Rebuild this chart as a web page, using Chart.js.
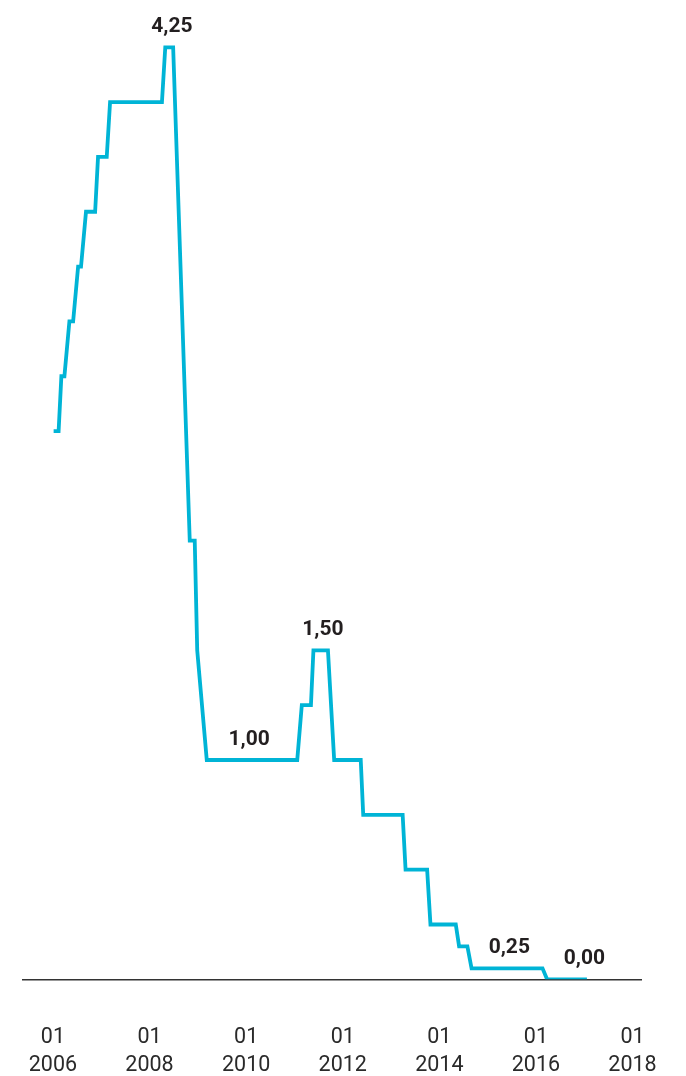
<!DOCTYPE html>
<html>
<head>
<meta charset="utf-8">
<script src="https://cdn.jsdelivr.net/npm/chart.js@4.4.1/dist/chart.umd.min.js"></script>
<style>
body { margin: 0; background: #fff; }
</style>
</head>
<body>
<canvas id="rate_canvas" width="686" height="1076"></canvas>
<script>
// rate path, corners of the steps
const rateDates = ['2006-04-19', '2006-05-25', '2006-06-15', '2006-07-07', '2006-08-13', '2006-09-10',
    '2006-10-16', '2006-11-07', '2006-12-13', '2007-02-19', '2007-03-10', '2007-05-13', '2007-06-07',
    '2008-06-22', '2008-07-16', '2008-09-13', '2009-01-13', '2009-02-19', '2009-03-07', '2009-05-16',
    '2011-03-10', '2011-04-13', '2011-06-19', '2011-07-07', '2011-10-22', '2011-12-07', '2012-06-19',
    '2012-07-07', '2013-04-22', '2013-05-13', '2013-10-19', '2013-11-13', '2014-05-16', '2014-06-10',
    '2014-08-10', '2014-09-10', '2016-02-13', '2016-03-16', '2017-01-04'];
const rateValues = [2.50, 2.50, 2.75, 2.75, 3.00, 3.00, 3.25, 3.25, 3.50, 3.50, 3.75, 3.75, 4.00,
    4.00, 4.25, 4.25, 2.00, 2.00, 1.50, 1.00, 1.00, 1.25, 1.25, 1.50, 1.50, 1.00, 1.00,
    0.75, 0.75, 0.50, 0.50, 0.25, 0.25, 0.15, 0.15, 0.05, 0.05, 0.00, 0.00];

// value labels on the line
const noteDates = ['2008-09-04', '2010-03-22', '2011-09-16', '2015-06-13', '2016-12-16'];
const noteValues = [4.25, 1.00, 1.50, 0.05, 0.00];
const noteTexts = ['4,25', '1,00', '1,50', '0,25', '0,00'];

// x axis labels
const tickYears = [2006, 2008, 2010, 2012, 2014, 2016, 2018];
const tickMonth = '01';

function month_index(s) {
    const p = s.split('-').map(Number);
    return (p[0] - 2006) * 12 + (p[1] - 1) + (p[2] - 1) / 30;
}

const note_plugin = {
    id: 'notes',
    afterDatasetsDraw(chart) {
        const ctx = chart.ctx;
        const xs = chart.scales.x;
        const ys = chart.scales.y;
        ctx.save();
        ctx.font = 'bold 21px Roboto';
        ctx.fillStyle = '#231f20';
        ctx.textAlign = 'center';
        ctx.textBaseline = 'alphabetic';
        for (let i = 0; i < noteTexts.length; i++) {
            ctx.fillText(noteTexts[i],
                xs.getPixelForValue(month_index(noteDates[i])),
                ys.getPixelForValue(noteValues[i]) - 15);
        }
        ctx.restore();
    }
};

const points = [];
for (let i = 0; i < rateDates.length; i++) {
    points.push({x: month_index(rateDates[i]), y: rateValues[i]});
}

new Chart(document.getElementById('rate_canvas'), {
    type: 'line',
    data: {
        datasets: [{
            data: points,
            borderColor: '#00b4d6',
            borderWidth: 3.8,
            borderJoinStyle: 'miter',
            borderCapStyle: 'butt',
            pointRadius: 0,
            tension: 0,
            fill: false
        }]
    },
    options: {
        responsive: false,
        animation: false,
        devicePixelRatio: 1,
        layout: {padding: {left: 22.5, right: 44.3, top: 14.4, bottom: 0}},
        plugins: {
            legend: {display: false},
            tooltip: {enabled: false}
        },
        scales: {
            x: {type: 'linear', display: false, min: -3.9, max: 145.3},
            years: {
                type: 'linear',
                position: 'bottom',
                min: 2005.37,
                max: 2018.19,
                afterBuildTicks: s => { s.ticks = tickYears.map(v => ({value: v})); },
                afterFit: s => {
                    s.height = 96.7;
                    // labels may hang past the plot, keep the plot width fixed
                    s.paddingLeft = 0;
                    s.paddingRight = 0;
                },
                grid: {drawOnChartArea: false, drawTicks: false},
                border: {color: '#333', width: 1.5},
                ticks: {
                    padding: 45,
                    autoSkip: false,
                    maxRotation: 0,
                    color: '#2a2a2a',
                    font: {family: 'Roboto', size: 21.5, lineHeight: 1.27},
                    callback: v => [tickMonth, String(v)]
                }
            },
            y: {display: false, min: 0, max: 4.4}
        }
    },
    plugins: [note_plugin]
});
</script>
</body>
</html>
